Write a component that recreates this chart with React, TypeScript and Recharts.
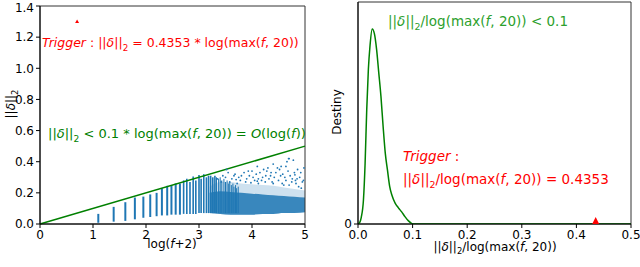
import React from 'react';
import { ComposedChart, XAxis, YAxis, Scatter, Area, Line, ReferenceLine, ReferenceArea } from 'recharts';

const FONT = 'DejaVu Sans';
const BLUE = '#1f77b4';
const GREEN = '#008000';
const GREEN2 = '#2ca02c';
const RED = '#ff0000';

// ---------- left panel data ----------
const leftXTicks = [0, 1, 2, 3, 4, 5];
const leftYTicks = [0, 0.2, 0.4, 0.6, 0.8, 1.0, 1.2, 1.4];

// discrete columns at log(f+2)
const colX = [1.10, 1.39, 1.61, 1.79, 1.95, 2.08, 2.20, 2.30, 2.40, 2.48, 2.56, 2.64, 2.71, 2.77, 2.83, 2.89, 2.94, 3.00, 3.04, 3.09, 3.14, 3.18, 3.22, 3.26, 3.30,
  3.33, 3.37, 3.40, 3.43, 3.47, 3.50, 3.53, 3.56, 3.58, 3.61, 3.64, 3.66, 3.69, 3.71, 3.74];
const colLo = [0.008, 0.015, 0.02, 0.03, 0.04, 0.045, 0.05, 0.055, 0.055, 0.06, 0.06, 0.06, 0.065, 0.065, 0.065, 0.065, 0.065, 0.07, 0.07, 0.07, 0.07, 0.07, 0.07, 0.07, 0.07,
  0.07, 0.07, 0.07, 0.07, 0.07, 0.07, 0.07, 0.07, 0.07, 0.07, 0.07, 0.07, 0.07, 0.07, 0.07];
const colHi = [0.065, 0.11, 0.14, 0.17, 0.176, 0.19, 0.20, 0.23, 0.245, 0.25, 0.26, 0.26, 0.28, 0.29, 0.27, 0.305, 0.28, 0.315, 0.29, 0.32, 0.30, 0.31, 0.31, 0.30, 0.31,
  0.30, 0.29, 0.30, 0.28, 0.29, 0.27, 0.28, 0.26, 0.27, 0.25, 0.26, 0.24, 0.25, 0.23, 0.24];

// dense cloud envelope
const cloudX = [3.2, 3.4, 3.6, 3.8, 4.0, 4.2, 4.4, 4.6, 4.8, 5.0];
const coreLo = [0.07, 0.065, 0.06, 0.06, 0.06, 0.065, 0.065, 0.07, 0.07, 0.075];
const coreHi = [0.2, 0.21, 0.205, 0.20, 0.195, 0.19, 0.185, 0.18, 0.175, 0.17];
const midHi = [0.24, 0.27, 0.27, 0.26, 0.255, 0.25, 0.245, 0.235, 0.225, 0.215];

// scattered points above the cloud
const outX = [4.70, 4.78, 4.40, 4.55, 4.80, 4.00, 3.68, 4.69, 4.66, 4.52, 4.81, 4.28, 4.10, 3.85, 3.95, 4.15, 4.35, 4.45, 4.62, 4.90, 4.95, 4.20, 3.75, 3.55, 3.45, 4.05, 4.25, 4.50, 4.75, 4.85, 3.90, 4.60, 4.98, 4.88, 4.30, 3.62, 4.12, 4.72,
  3.35, 3.42, 3.50, 3.58, 3.66, 3.72, 3.80, 3.88, 3.93, 4.02, 4.08, 4.18, 4.22, 4.32, 4.38, 4.42, 4.48, 4.58, 4.64, 4.68, 4.76, 4.83, 4.92, 4.97, 3.52, 3.78, 4.12, 4.36, 4.57, 4.86, 4.93, 4.70, 4.40, 4.10, 3.70, 3.98, 4.26, 4.54, 4.82, 4.64];
const outY = [0.42, 0.41, 0.385, 0.37, 0.33, 0.34, 0.32, 0.42, 0.40, 0.35, 0.316, 0.34, 0.37, 0.33, 0.31, 0.33, 0.31, 0.33, 0.30, 0.30, 0.27, 0.30, 0.30, 0.33, 0.31, 0.28, 0.27, 0.28, 0.27, 0.29, 0.29, 0.25, 0.36, 0.24, 0.36, 0.29, 0.26, 0.31,
  0.29, 0.27, 0.30, 0.27, 0.31, 0.26, 0.31, 0.27, 0.34, 0.30, 0.32, 0.28, 0.35, 0.29, 0.27, 0.30, 0.36, 0.32, 0.28, 0.34, 0.29, 0.26, 0.33, 0.28, 0.35, 0.28, 0.29, 0.33, 0.26, 0.35, 0.23, 0.25, 0.26, 0.275, 0.285, 0.265, 0.31, 0.31, 0.28, 0.37];

const boundX = [0, 5];
const boundY = [0, 0.5];
const triggerLeft = { x: 0.7, y: 1.3 };

// ---------- right panel data ----------
const rightXTicks = [0, 0.1, 0.2, 0.3, 0.4, 0.5];
const kdeX = [0, 0.003, 0.006, 0.010, 0.013, 0.016, 0.019, 0.022, 0.026, 0.030, 0.034, 0.038, 0.042, 0.046, 0.050, 0.054, 0.058, 0.062, 0.068, 0.074, 0.080, 0.086, 0.092, 0.098, 0.102, 0.2, 0.3, 0.4, 0.5];
const kdeY = [0, 0.2, 1, 3.6, 9, 17, 23, 26.5, 29, 28.3, 26, 22.5, 19, 14.5, 10.5, 8, 5.6, 4.3, 3.1, 2.4, 1.8, 1.1, 0.5, 0.1, 0, 0, 0, 0, 0];
const triggerRight = { x: 0.4353, y: 0 };

const cloudRows = cloudX.map((x, i) => ({
  x,
  core: [coreLo[i], coreHi[i]],
  mid: [coreLo[i], midHi[i]],
}));
const outRows = outX.map((x, i) => ({ x, y: outY[i] }));
const kdeRows = kdeX.map((x, i) => ({ x, y: kdeY[i] }));

const tickStyle = { fill: '#000', fontSize: 12, fontFamily: FONT };

const Dot = (p: any) => <circle cx={p.cx} cy={p.cy} r={0.9} fill={BLUE} />;
const SmallTri = (p: any) => (
  <polygon points={`${p.cx},${p.cy - 2} ${p.cx - 2},${p.cy + 1.5} ${p.cx + 2},${p.cy + 1.5}`} fill={RED} />
);
const BaseTri = (p: any) => (
  <polygon points={`${p.cx},${p.cy - 7} ${p.cx - 3.5},${p.cy} ${p.cx + 3.5},${p.cy}`} fill={RED} />
);

const Norm = ({ size, children }: { size: number; children?: React.ReactNode }) => (
  <>
    <tspan>||</tspan>
    <tspan fontStyle="italic">δ</tspan>
    <tspan>||</tspan>
    <tspan fontSize={size * 0.7} dy={size * 0.28}>2</tspan>
    {children ? <tspan dy={-size * 0.28}>{children}</tspan> : null}
  </>
);

function LeftChart() {
  return (
    <ComposedChart width={320} height={267} data={cloudRows} margin={{ top: 6, right: 15, bottom: 13, left: 0 }}>
      <XAxis dataKey="x" type="number" domain={[0, 5]} ticks={leftXTicks} allowDataOverflow
        tick={tickStyle} tickSize={4} height={30} axisLine={{ stroke: '#000' }} tickLine={{ stroke: '#000' }} />
      <YAxis dataKey="y" type="number" domain={[0, 1.4]} ticks={leftYTicks} allowDataOverflow
        tickFormatter={(v: number) => v.toFixed(1)}
        tick={tickStyle} tickSize={4} width={40} axisLine={{ stroke: '#000' }} tickLine={{ stroke: '#000' }} />
      <Area dataKey="mid" type="monotone" stroke="none" fill={BLUE} fillOpacity={0.22} isAnimationActive={false} />
      <Area dataKey="core" type="monotone" stroke="none" fill={BLUE} fillOpacity={0.85} isAnimationActive={false} />
      {colX.map((x, i) => (
        <ReferenceLine key={i} segment={[{ x, y: colLo[i] }, { x, y: colHi[i] }]} stroke={BLUE} strokeWidth={i < 12 ? 2 : i < 25 ? 1.6 : 1} />
      ))}
      <Scatter data={outRows} shape={Dot} isAnimationActive={false} />
      <Scatter data={[triggerLeft]} shape={SmallTri} isAnimationActive={false} />
      <ReferenceLine segment={[{ x: boundX[0], y: boundY[0] }, { x: boundX[1], y: boundY[1] }]} stroke={GREEN} strokeWidth={1.5} />
      <ReferenceArea x1={0} x2={5} y1={0} y2={1.4} fill="none" stroke="#333" strokeWidth={1} />
    </ComposedChart>
  );
}

function RightChart() {
  return (
    <ComposedChart width={320} height={267} data={kdeRows} margin={{ top: 2, right: 9, bottom: 13, left: 0 }}>
      <XAxis dataKey="x" type="number" domain={[0, 0.5]} ticks={rightXTicks} allowDataOverflow
        tickFormatter={(v: number) => v.toFixed(1)}
        tick={tickStyle} tickSize={4} height={30} axisLine={{ stroke: '#000' }} tickLine={{ stroke: '#000' }} />
      <YAxis dataKey="y" type="number" domain={[0, 33]} ticks={[0]} allowDataOverflow
        tick={tickStyle} tickSize={4} width={38} axisLine={{ stroke: '#000' }} tickLine={{ stroke: '#000' }} />
      <Line dataKey="y" type="monotone" stroke={GREEN} strokeWidth={1.5} dot={false} isAnimationActive={false} />
      <Scatter data={[triggerRight]} shape={BaseTri} isAnimationActive={false} />
      <ReferenceArea x1={0} x2={0.5} y1={0} y2={33} fill="none" stroke="#333" strokeWidth={1} />
    </ComposedChart>
  );
}

export default function App() {
  return (
    <div style={{ position: 'absolute', left: 0, top: 0, width: 640, height: 267, background: '#fff', overflow: 'hidden' }}>
      <div style={{ position: 'absolute', left: 0, top: 0 }}><LeftChart /></div>
      <div style={{ position: 'absolute', left: 320, top: 0 }}><RightChart /></div>
      <svg width={640} height={267} style={{ position: 'absolute', left: 0, top: 0, pointerEvents: 'none' }} fontFamily={FONT}>
        <text x={42} y={47} fill={RED} fontSize={12.5}>
          <tspan fontStyle="italic">Trigger</tspan><tspan> : </tspan>
          <Norm size={12.5}> = 0.4353 * log(max(</Norm>
          <tspan fontStyle="italic">f</tspan><tspan>, 20))</tspan>
        </text>
        <text x={48} y={138} fill={GREEN} fontSize={13}>
          <Norm size={13}> &lt; 0.1 * log(max(</Norm>
          <tspan fontStyle="italic">f</tspan><tspan>, 20)) = </tspan>
          <tspan fontStyle="italic">O</tspan><tspan>(log(</tspan><tspan fontStyle="italic">f</tspan><tspan>))</tspan>
        </text>
        <text transform="translate(15,104) rotate(-90)" textAnchor="middle" fill="#000" fontSize={12}>
          <Norm size={12} />
        </text>
        <text x={172} y={248} textAnchor="middle" fill="#000" fontSize={12}>
          <tspan>log(</tspan><tspan fontStyle="italic">f</tspan><tspan>+2)</tspan>
        </text>
        <text x={388} y={26} fill={GREEN2} fontSize={13.5}>
          <Norm size={13.5}>/log(max(</Norm>
          <tspan fontStyle="italic">f</tspan><tspan>, 20)) &lt; 0.1</tspan>
        </text>
        <text x={403} y={161} fill={RED} fontSize={13.5}>
          <tspan fontStyle="italic">Trigger</tspan><tspan> :</tspan>
        </text>
        <text x={403} y={184} fill={RED} fontSize={13.5}>
          <Norm size={13.5}>/log(max(</Norm>
          <tspan fontStyle="italic">f</tspan><tspan>, 20)) = 0.4353</tspan>
        </text>
        <text transform="translate(341,112) rotate(-90)" textAnchor="middle" fill="#000" fontSize={12}>Destiny</text>
        <text x={495} y={251} textAnchor="middle" fill="#000" fontSize={12}>
          <Norm size={12}>/log(max(</Norm>
          <tspan fontStyle="italic">f</tspan><tspan>, 20))</tspan>
        </text>
      </svg>
    </div>
  );
}
